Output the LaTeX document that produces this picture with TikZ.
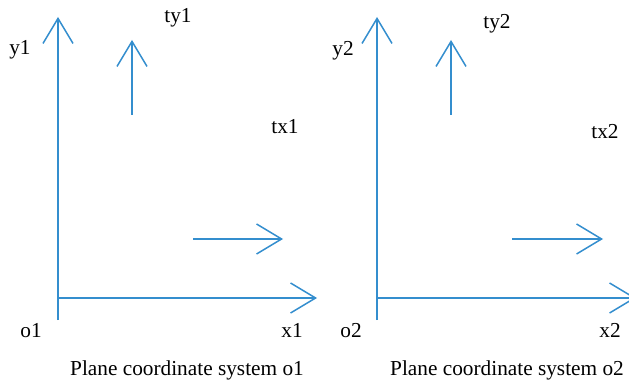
\documentclass[tikz,border=0pt]{standalone}
\usepackage{fontspec}
\setmainfont{Liberation Serif}
\usetikzlibrary{arrows.meta}
\definecolor{axisblue}{RGB}{52,142,206}
\tikzset{
  axisarrow/.style={axisblue, line width=1.5pt,
    -{Straight Barb[length=25pt, width=30pt, line width=1.5pt]}},
  lbl/.style={font=\fontsize{21.3}{25}\selectfont, inner sep=0pt},
}
\begin{document}
\begin{tikzpicture}[x=1pt, y=-1pt]
    \useasboundingbox (0,0) rectangle (629,387);
    \clip (0,0) rectangle (629,387);

    % Left frame: o1
    \begin{scope}[shift={(0,0)}]
        \coordinate (org1) at (58, 298);
        \coordinate (ybot1) at (58, 320);
        \coordinate (ytip1) at (58, 17);
        \coordinate (xtip1) at (317, 298);
        \coordinate (tyfoot1) at (132, 115);
        \coordinate (tytip1) at (132, 40);
        \coordinate (txfoot1) at (193, 239);
        \coordinate (txtip1) at (283, 239);

        \draw[axisarrow] (ybot1) -- (ytip1);
        \draw[axisarrow] (org1) -- (xtip1);
        \draw[axisarrow] (tyfoot1) -- (tytip1);
        \draw[axisarrow] (txfoot1) -- (txtip1);

        \node[lbl] (ylab1) at (20, 50) {y1};
        \node[lbl] (tylab1) at (178, 18) {ty1};
        \node[lbl] (txlab1) at (285, 127) {tx1};
        \node[lbl] (olab1) at (31, 331) {o1};
        \node[lbl] (xlab1) at (292, 330) {x1};
        \node[lbl] (cap1) at (187, 370) {Plane coordinate system o1};
    \end{scope}

    % Right frame: o2
    \begin{scope}[shift={(319,0)}]
        \coordinate (org2) at (58, 298);
        \coordinate (ybot2) at (58, 320);
        \coordinate (ytip2) at (58, 17);
        \coordinate (xtip2) at (317, 298);
        \coordinate (tyfoot2) at (132, 115);
        \coordinate (tytip2) at (132, 40);
        \coordinate (txfoot2) at (193, 239);
        \coordinate (txtip2) at (284, 239);

        \draw[axisarrow] (ybot2) -- (ytip2);
        \draw[axisarrow] (org2) -- (xtip2);
        \draw[axisarrow] (tyfoot2) -- (tytip2);
        \draw[axisarrow] (txfoot2) -- (txtip2);

        \node[lbl] (ylab2) at (24, 51) {y2};
        \node[lbl] (tylab2) at (178, 24) {ty2};
        \node[lbl] (txlab2) at (286, 132) {tx2};
        \node[lbl] (olab2) at (32, 331) {o2};
        \node[lbl] (xlab2) at (291, 330) {x2};
        \node[lbl] (cap2) at (188, 370) {Plane coordinate system o2};
    \end{scope}
\end{tikzpicture}
\end{document}
